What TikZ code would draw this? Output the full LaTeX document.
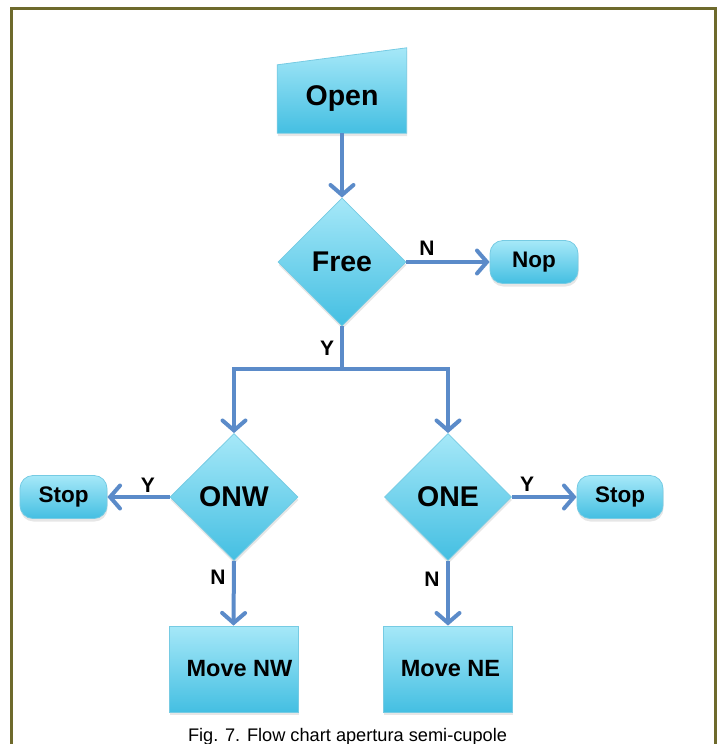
\documentclass[tikz,border=0pt]{standalone}
\usepackage{fontspec}
\setmainfont{Liberation Sans}
\usetikzlibrary{shapes.geometric,arrows.meta,shadows,backgrounds}
\definecolor{arrowblue}{HTML}{5B8BC9}
\definecolor{boxtop}{HTML}{A6E8F8}
\definecolor{boxbot}{HTML}{44BFE2}
\definecolor{boxline}{HTML}{76CBE3}
\definecolor{frameolive}{HTML}{6E6A2C}
\begin{document}
\begin{tikzpicture}[x=1pt,y=-1pt,
  fillshape/.style={top color=boxtop, bottom color=boxbot, draw=boxline, line width=0.8pt,
    drop shadow={shadow xshift=0.5pt, shadow yshift=-3pt, opacity=0.2}},
  decision/.style={fillshape, diamond, aspect=1, minimum width=128pt, minimum height=128pt,
    inner sep=0pt, font=\bfseries\fontsize{28.5}{30}\selectfont},
  terminal/.style={fillshape, rectangle, rounded corners=13pt, minimum width=87pt,
    minimum height=43pt, inner sep=0pt, font=\bfseries\fontsize{22.5}{24}\selectfont},
  process/.style={fillshape, rectangle, minimum width=129pt, minimum height=86pt,
    inner sep=0pt, font=\bfseries\fontsize{23.5}{25}\selectfont},
  flow/.style={draw=arrowblue, line width=4pt,
    -{Straight Barb[length=10pt,width=23pt,line cap=round]}},
  plainflow/.style={draw=arrowblue, line width=4pt},
  lbl/.style={font=\bfseries\fontsize{21}{22}\selectfont, inner sep=0pt},
  caption/.style={font=\fontsize{18.2}{20}\selectfont, inner sep=0pt, anchor=base}
]
\useasboundingbox (0,0) rectangle (717,744);
\draw[frameolive, line width=3pt] (11,746) -- (11,8) -- (715,8) -- (715,746);

% nodes
\node[minimum width=129pt, minimum height=68pt, inner sep=0pt,
      font=\bfseries\fontsize{28.5}{30}\selectfont] (open) at (342,99) {Open};
\begin{scope}[on background layer]
  \path[fillshape] (open.south west) -- (open.north west)
      -- ([yshift=17pt]open.north east) -- (open.south east) -- cycle;
\end{scope}

\node[decision] (free) at (342,262) {Free};
\node[terminal, minimum width=88pt] (nop) at (534,262) {Nop};

\node[decision, minimum height=127pt] (onw) at (234,497) {ONW};
\node[decision, minimum width=127pt, minimum height=127pt] (one) at (448,497) {ONE};

\node[terminal] (stopl) at (63.5,497) {Stop};
\node[terminal, minimum width=86pt] (stopr) at (620,497) {Stop};

\node[process] (movenw) at (233.5,669) {\hspace*{12pt}Move NW};
\node[process] (movene) at (448,669) {\hspace*{5pt}Move NE};

\coordinate (j) at (342,369);

% connectors
\draw[flow] (open.south) -- (free.north);
\draw[flow] (free.east) -- (nop.west);
\draw[plainflow] (free.south) -- (j);
\draw[flow] (j) -| (onw.north);
\draw[flow] (j) -| (one.north);
\draw[flow] (onw.west) -- (stopl.east);
\draw[flow] (one.east) -- (stopr.west);
\draw[flow] (onw.south) -- (movenw.north);
\draw[flow] (one.south) -- (movene.north);

% labels
\node[lbl] (ln1) at (427,248) {N};
\node[lbl] (ly1) at (327,348) {Y};
\node[lbl] (ly2) at (148,485) {Y};
\node[lbl] (ly3) at (527,484) {Y};
\node[lbl] (ln2) at (218,577) {N};
\node[lbl] (ln3) at (432,579) {N};

\node[caption] (cap) at (347.5,741) {Fig. 7. Flow chart apertura semi-cupole};
\end{tikzpicture}
\end{document}
